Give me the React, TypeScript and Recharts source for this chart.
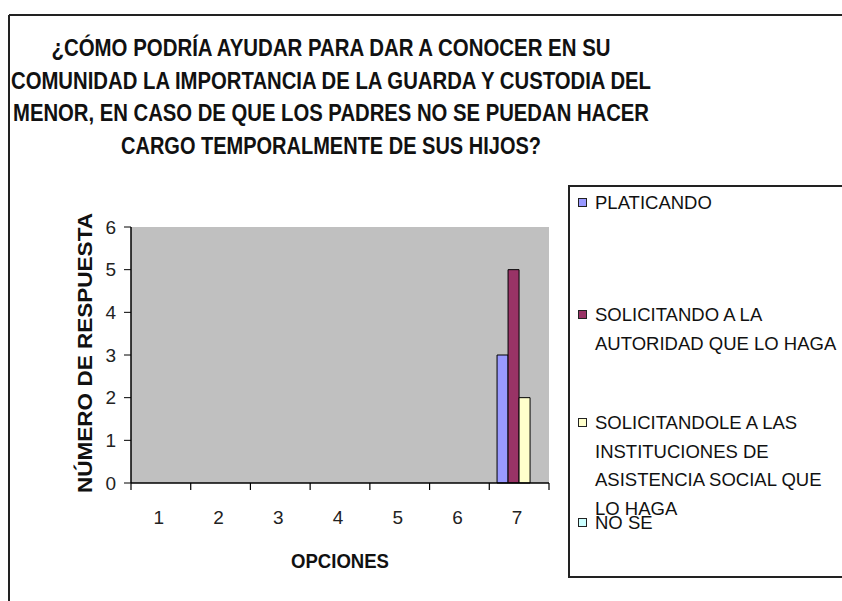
import React from 'react';
import { BarChart, Bar, XAxis, YAxis, CartesianGrid, Legend } from 'recharts';

const titleLines = [
  '¿CÓMO PODRÍA AYUDAR PARA DAR A CONOCER EN SU',
  'COMUNIDAD LA IMPORTANCIA DE LA GUARDA Y CUSTODIA DEL',
  'MENOR, EN CASO DE QUE LOS PADRES NO SE PUEDAN HACER',
  'CARGO TEMPORALMENTE DE SUS HIJOS?',
];
const titleWidths = [559, 640, 636, 420];

const categories = ['1', '2', '3', '4', '5', '6', '7'];
const platicando = [0, 0, 0, 0, 0, 0, 3];
const solicitandoAutoridad = [0, 0, 0, 0, 0, 0, 5];
const solicitandoInstituciones = [0, 0, 0, 0, 0, 0, 2];
const noSe = [0, 0, 0, 0, 0, 0, 0];
const yTicks = [0, 1, 2, 3, 4, 5, 6];

const seriesNames = [
  'PLATICANDO',
  'SOLICITANDO A LA AUTORIDAD QUE LO HAGA',
  'SOLICITANDOLE A LAS INSTITUCIONES DE ASISTENCIA SOCIAL QUE LO HAGA',
  'NO SE',
];
const seriesColors = ['#9999FF', '#993366', '#FFFFCC', '#CCFFFF'];
const seriesKeys = ['s0', 's1', 's2', 's3'];

const xTitle = 'OPCIONES';
const yTitle = 'NÚMERO DE RESPUESTA';

const data = categories.map((c, i) => ({
  cat: c,
  s0: platicando[i],
  s1: solicitandoAutoridad[i],
  s2: solicitandoInstituciones[i],
  s3: noSe[i],
}));

const W = 842;
const H = 601;
const Y_AXIS_W = 60;
const MARGIN = { top: 227, right: 293, bottom: 0, left: 71 };
const X_AXIS_H = 118;
const PLOT_W = W - MARGIN.left - Y_AXIS_W - MARGIN.right;
const BAND = PLOT_W / categories.length;
const FONT = '"Liberation Sans", Arial, sans-serif';

const XTick = (props: any) => {
  const { x, y, payload, index } = props;
  const last = index === categories.length - 1;
  return (
    <g>
      <line x1={x - BAND / 2} y1={y} x2={x - BAND / 2} y2={y + 7} stroke="#000" strokeWidth={1.2} />
      {last && <line x1={x + BAND / 2} y1={y} x2={x + BAND / 2} y2={y + 7} stroke="#000" strokeWidth={1.2} />}
      <text x={x - 2} y={y + 34} textAnchor="middle" dominantBaseline="central" fontFamily={FONT} fontSize={19} fill="#222">
        {payload.value}
      </text>
    </g>
  );
};

const XLabel = (props: any) => {
  const vb = props.viewBox;
  const cx = MARGIN.left + Y_AXIS_W + PLOT_W / 2;
  return (
    <text x={cx} y={vb.y + 77} textAnchor="middle" dominantBaseline="central" fontFamily={FONT} fontWeight="bold" fontSize={21} fill="#111" textLength={98} lengthAdjust="spacingAndGlyphs">
      {xTitle}
    </text>
  );
};

const YLabel = (props: any) => {
  const vb = props.viewBox;
  const cx = vb.x + 13;
  const cy = vb.y + vb.height / 2 - 2;
  return (
    <text x={cx} y={cy} transform={`rotate(-90 ${cx} ${cy})`} textAnchor="middle" dominantBaseline="central" fontFamily={FONT} fontWeight="bold" fontSize={21} fill="#111" textLength={280} lengthAdjust="spacingAndGlyphs">
      {yTitle}
    </text>
  );
};

const itemTops = [2, 114, 222, 322];

const LegendContent = (props: any) => {
  const payload = [...(props.payload || [])].sort(
    (a: any, b: any) => seriesNames.indexOf(a.value) - seriesNames.indexOf(b.value)
  );
  return (
    <div style={{ position: 'relative', width: 290, height: 393, border: '2px solid #222', boxSizing: 'border-box', background: '#fff', fontFamily: FONT, fontSize: 18.5, color: '#111' }}>
      {payload.map((p: any, i: number) => (
        <div key={i} style={{ position: 'absolute', left: 0, top: itemTops[i], width: 290 }}>
          <div style={{ position: 'absolute', left: 8, top: 9, width: 9, height: 9, background: p.color, border: '1px solid #222', boxSizing: 'border-box' }} />
          <div style={{ position: 'absolute', left: 25, top: 0, width: 250, lineHeight: '28.5px' }}>{p.value}</div>
        </div>
      ))}
    </div>
  );
};

export default function App() {
  return (
    <div style={{ position: 'absolute', left: 0, top: 0, width: W, height: H, background: '#fff', overflow: 'hidden' }}>
      <svg width={W} height={H} style={{ position: 'absolute', left: 0, top: 0 }}>
        <line x1={9} y1={15} x2={W} y2={15} stroke="#222" strokeWidth={2} />
        <line x1={9} y1={15} x2={9} y2={H} stroke="#222" strokeWidth={2} />
        {titleLines.map((t, i) => (
          <text key={i} x={331} y={48 + i * 32.7} textAnchor="middle" dominantBaseline="central" fontFamily={FONT} fontWeight="bold" fontSize={23} fill="#111" textLength={titleWidths[i]} lengthAdjust="spacingAndGlyphs">
            {t}
          </text>
        ))}
      </svg>
      <div style={{ position: 'absolute', left: 0, top: 0 }}>
        <BarChart width={W} height={H} data={data} margin={MARGIN} barCategoryGap="13%" barGap={0}>
          <CartesianGrid fill="#C0C0C0" horizontal={false} vertical={false} />
          <XAxis dataKey="cat" height={X_AXIS_H} tickLine={false} tickSize={0} tickMargin={0} axisLine={{ stroke: '#000', strokeWidth: 1.5 }} tick={<XTick />} interval={0} label={<XLabel />} />
          <XAxis xAxisId="top" dataKey="cat" orientation="top" height={0} tick={false} tickLine={false} axisLine={{ stroke: '#808080' }} />
          <YAxis width={Y_AXIS_W} domain={[0, 6]} ticks={yTicks} tickSize={7} tickMargin={8} interval={0} tickLine={{ stroke: '#000' }} axisLine={{ stroke: '#000', strokeWidth: 1.5 }} tick={{ fontSize: 19, fill: '#222', fontFamily: FONT }} label={<YLabel />} />
          <YAxis yAxisId="right" orientation="right" width={0} domain={[0, 6]} tick={false} tickLine={false} axisLine={{ stroke: '#808080' }} />
          {seriesKeys.map((k, i) => (
            <Bar key={k} dataKey={k} name={seriesNames[i]} fill={seriesColors[i]} stroke="#000" strokeWidth={1} isAnimationActive={false} />
          ))}
          <Legend layout="vertical" align="center" verticalAlign="middle" content={<LegendContent />} wrapperStyle={{ position: 'absolute', left: 568, top: 185, width: 290, height: 393 }} />
        </BarChart>
      </div>
    </div>
  );
}
